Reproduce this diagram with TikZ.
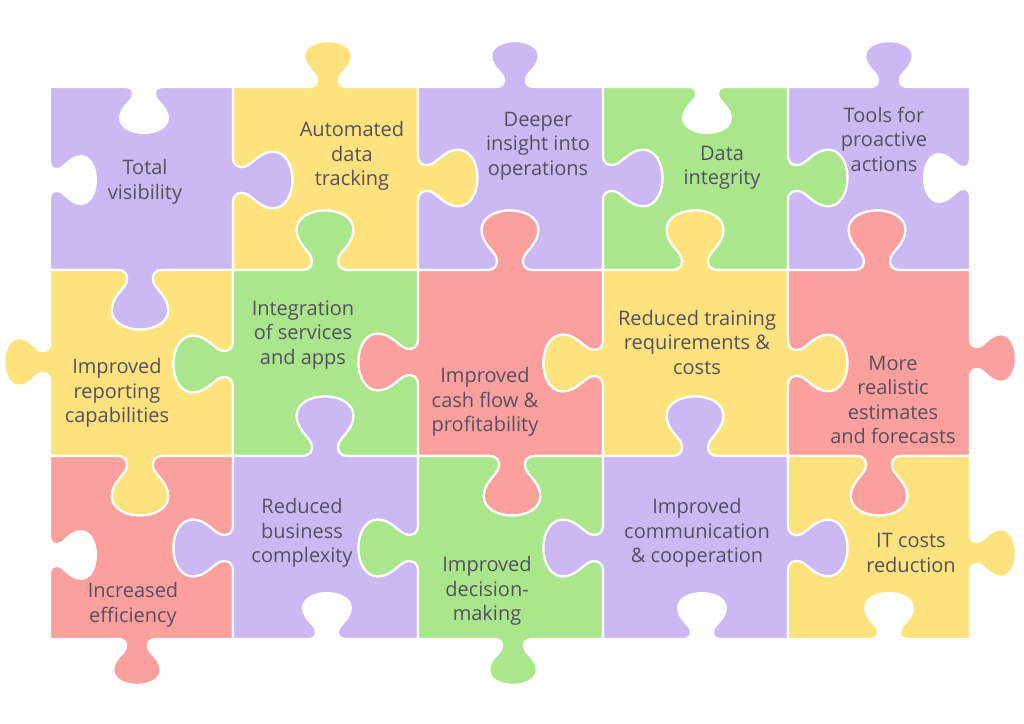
\documentclass[tikz,border=0pt]{standalone}
\usepackage{fontspec}
\setmainfont{Open Sans}
\definecolor{cPur}{RGB}{204,184,242}
\definecolor{cYel}{RGB}{254,226,126}
\definecolor{cGrn}{RGB}{170,230,140}
\definecolor{cRed}{RGB}{252,160,158}
\definecolor{txt}{RGB}{85,80,95}
% tab along an edge: centre x, centre y, travel angle, xscale, yscale (negative = hole)
\newcommand\tb[5]{%
  {[shift={(#1,#2)},rotate=#3,xscale=#4,yscale=#5]
   -- (-22,0) .. controls (-14,0) and (-11,-5) .. (-13,-13)
   .. controls (-15,-20) and (-27,-28) .. (-27,-42)
   .. controls (-27,-54) and (-15,-62) .. (0,-62)
   .. controls (15,-62) and (27,-54) .. (27,-42)
   .. controls (27,-28) and (15,-20) .. (13,-13)
   .. controls (11,-5) and (14,0) .. (22,0)}}
\def\ix{1.05}\def\iy{0.96}
\def\ox{0.88}\def\oy{0.74}
\begin{document}
\begin{tikzpicture}[x=1pt,y=-1pt,
  pc/.style={fill=#1, draw=white, line width=2.2pt, line join=round},
  lbl/.style={font=\fontsize{20}{24.5}\selectfont, text=txt, align=center, inner sep=0pt, yshift=-2pt}]
\fill[white] (0,0) rectangle (1024,723);
% ---- row 1
\path[pc=cPur] (50,87) \tb{144}{87}{0}{\ox}{-\oy} -- (233,87) \tb{233}{180}{-90}{\ix}{\iy} -- (233,270) \tb{140}{270}{180}{\ix}{\iy} -- (50,270) \tb{50}{180}{90}{\ox}{-\oy} -- cycle;
\path[pc=cYel] (233,87) \tb{328}{87}{0}{\ox}{\oy} -- (418,87) \tb{418}{178}{-90}{\ix}{\iy} -- (418,270) \tb{325}{270}{180}{\ix}{-\iy} -- (233,270) \tb{233}{180}{90}{\ix}{-\iy} -- cycle;
\path[pc=cPur] (418,87) \tb{515}{87}{0}{\ox}{\oy} -- (603,87) \tb{603}{178}{-90}{\ix}{\iy} -- (603,270) \tb{510}{270}{180}{\ix}{-\iy} -- (418,270) \tb{418}{178}{90}{\ix}{-\iy} -- cycle;
\path[pc=cGrn] (603,87) \tb{707}{87}{0}{\ox}{-\oy} -- (788,87) \tb{788}{178}{-90}{\ix}{\iy} -- (788,270) \tb{695}{270}{180}{\ix}{-\iy} -- (603,270) \tb{603}{178}{90}{\ix}{-\iy} -- cycle;
\path[pc=cPur] (788,87) \tb{889}{87}{0}{\ox}{\oy} -- (970,87) \tb{970}{178}{-90}{\ox}{-\oy} -- (970,270) \tb{877}{270}{180}{\ix}{-\iy} -- (788,270) \tb{788}{178}{90}{\ix}{-\iy} -- cycle;
% ---- row 2
\path[pc=cYel] (50,270) \tb{140}{270}{0}{\ix}{-\iy} -- (233,270) \tb{233}{364}{-90}{\ix}{-\iy} -- (233,456) \tb{140}{456}{180}{\ix}{\iy} -- (50,456) \tb{50}{362}{90}{\ox}{\oy} -- cycle;
\path[pc=cGrn] (233,270) \tb{325}{270}{0}{\ix}{\iy} -- (418,270) \tb{418}{362}{-90}{\ix}{-\iy} -- (418,456) \tb{325}{456}{180}{\ix}{-\iy} -- (233,456) \tb{233}{364}{90}{\ix}{\iy} -- cycle;
\path[pc=cRed] (418,270) \tb{510}{270}{0}{\ix}{\iy} -- (603,270) \tb{603}{363}{-90}{\ix}{-\iy} -- (603,456) \tb{512}{456}{180}{\ix}{\iy} -- (418,456) \tb{418}{362}{90}{\ix}{\iy} -- cycle;
\path[pc=cYel] (603,270) \tb{695}{270}{0}{\ix}{\iy} -- (788,270) \tb{788}{363}{-90}{\ix}{\iy} -- (788,456) \tb{695}{456}{180}{\ix}{-\iy} -- (603,456) \tb{603}{363}{90}{\ix}{\iy} -- cycle;
\path[pc=cRed] (788,270) \tb{877}{270}{0}{\ix}{\iy} -- (970,270) \tb{970}{358}{-90}{\ox}{\oy} -- (970,456) \tb{879}{456}{180}{\ix}{\iy} -- (788,456) \tb{788}{363}{90}{\ix}{-\iy} -- cycle;
% ---- row 3
\path[pc=cRed] (50,456) \tb{140}{456}{0}{\ix}{-\iy} -- (233,456) \tb{233}{548}{-90}{\ix}{-\iy} -- (233,639) \tb{137}{639}{180}{\ox}{\oy} -- (50,639) \tb{50}{555}{90}{\ox}{-\oy} -- cycle;
\path[pc=cPur] (233,456) \tb{325}{456}{0}{\ix}{\iy} -- (418,456) \tb{418}{548}{-90}{\ix}{-\iy} -- (418,639) \tb{327}{639}{180}{\ox}{-\oy} -- (233,639) \tb{233}{548}{90}{\ix}{\iy} -- cycle;
\path[pc=cGrn] (418,456) \tb{512}{456}{0}{\ix}{-\iy} -- (603,456) \tb{603}{548}{-90}{\ix}{-\iy} -- (603,639) \tb{513}{639}{180}{\ox}{\oy} -- (418,639) \tb{418}{548}{90}{\ix}{\iy} -- cycle;
\path[pc=cPur] (603,456) \tb{695}{456}{0}{\ix}{\iy} -- (788,456) \tb{788}{548}{-90}{\ix}{\iy} -- (788,639) \tb{702}{639}{180}{\ox}{-\oy} -- (603,639) \tb{603}{548}{90}{\ix}{\iy} -- cycle;
\path[pc=cYel] (788,456) \tb{879}{456}{0}{\ix}{-\iy} -- (970,456) \tb{970}{553}{-90}{\ox}{\oy} -- (970,639) \tb{889}{639}{180}{\ox}{-\oy} -- (788,639) \tb{788}{548}{90}{\ix}{-\iy} -- cycle;
% ---- labels
\node[lbl] (t11) at (145,180) {Total\\visibility};
\node[lbl] (t12) at (352,154) {Automated\\data\\tracking};
\node[lbl] (t13) at (538,144) {Deeper\\insight into\\operations};
\node[lbl] (t14) at (722,166) {Data\\integrity};
\node[lbl] (t15) at (884,137) {Tools for\\proactive\\actions};
\node[lbl] (t21) at (117,391) {Improved\\reporting\\capabilities};
\node[lbl] (t22) at (303,333) {Integration\\of services\\and apps};
\node[lbl] (t23) at (485,400) {Improved\\cash flow \&\\profitability};
\node[lbl] (t24) at (697,340) {Reduced training\\requirements \&\\costs};
\node[lbl] (t25) at (893,398) {More\\realistic\\estimates\\and forecasts};
\node[lbl] (t31) at (133,603) {Increased\\efficiency};
\node[lbl] (t32) at (302,531) {Reduced\\business\\complexity};
\node[lbl] (t33) at (487,589) {Improved\\decision-\\making};
\node[lbl] (t34) at (697,531) {Improved\\communication\\\& cooperation};
\node[lbl] (t35) at (911,551) {IT costs\\reduction};
\end{tikzpicture}
\end{document}
